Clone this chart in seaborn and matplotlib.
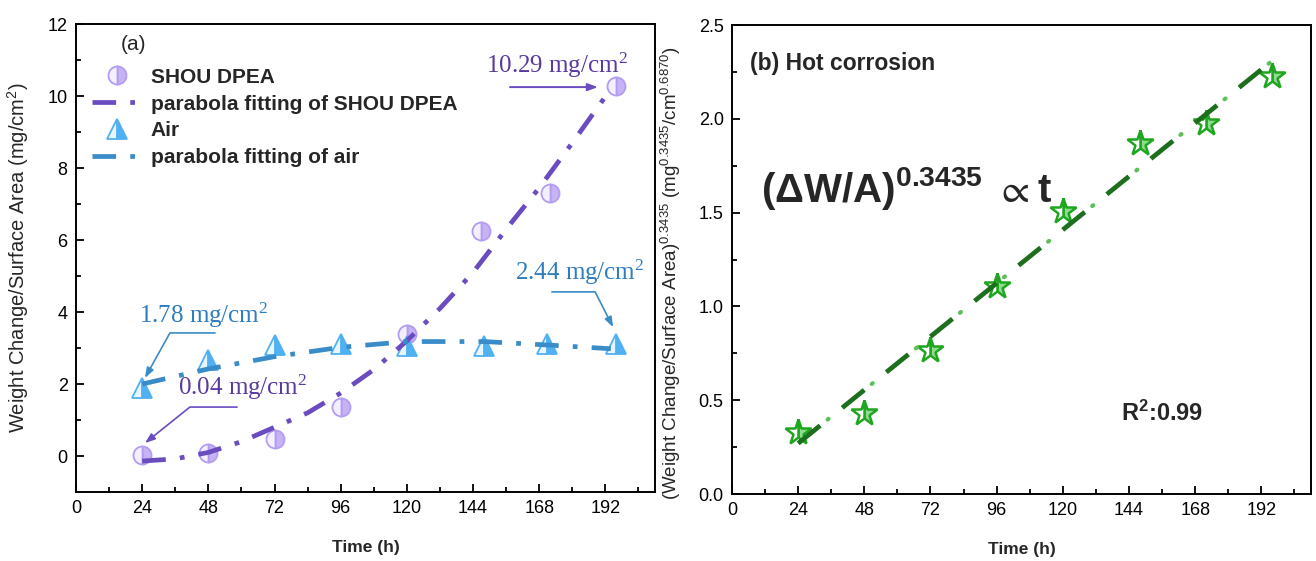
import matplotlib
matplotlib.use("Agg")
import matplotlib.pyplot as plt
from matplotlib.ticker import MultipleLocator, FormatStrFormatter
import seaborn as sns

# ---- values ----
# (a) SHOU DPEA vs air
time_shou = [24, 48, 72, 96, 120, 147, 172, 196]
wc_shou = [0.04, 0.08, 0.46, 1.35, 3.39, 6.25, 7.31, 10.29]
time_air = [24, 48, 72, 96, 120, 148, 171, 196]
wc_air = [1.9, 2.67, 3.09, 3.1, 3.06, 3.06, 3.1, 3.1]

fit_shou_t = [24, 36, 48, 60, 72, 84, 96, 108, 120, 132, 144, 156, 168, 180, 194]
fit_shou_v = [-0.14, -0.08, 0.1, 0.4, 0.8, 1.2, 1.75, 2.4, 3.2, 4.1, 5.1, 6.3, 7.45, 8.7, 10.2]
fit_air_t = [24, 48, 72, 96, 120, 148, 172, 194]
fit_air_v = [2.0, 2.42, 2.76, 3.02, 3.18, 3.18, 3.08, 2.98]

# (b) hot corrosion, linearised
time_hot = [24, 48, 72, 96, 120, 148, 172, 196]
wc_hot = [0.33, 0.43, 0.77, 1.11, 1.51, 1.87, 1.98, 2.23]
fit_hot_t = [24, 196]
fit_hot_v = [0.27, 2.31]

time_ticks = [0, 24, 48, 72, 96, 120, 144, 168, 192]

sns.set_style("ticks")
plt.rcParams["font.family"] = ["Liberation Sans", "DejaVu Sans"]
plt.rcParams["mathtext.default"] = "regular"
sans = ["Liberation Sans", "DejaVu Sans"]

PURPLE = "#6a4cc0"
PURPLE_TXT = "#5a3a9e"
BLUE = "#3a8cc8"
BLUE_TXT = "#2f7cbf"
LAV = "#c6b3f4"
SKY = "#4fb0f2"

fig = plt.figure(figsize=(13.16, 5.61), dpi=100)
ax1 = fig.add_axes([0.0578, 0.123, 0.4399, 0.834])
ax2 = fig.add_axes([0.5562, 0.1194, 0.44, 0.836])

for ax in (ax1, ax2):
    ax.set_xlim(0, 210)
    ax.set_xticks(time_ticks)
    ax.xaxis.set_minor_locator(MultipleLocator(12))
    ax.tick_params(which="both", direction="in", top=False, right=False,
                   width=1.3, labelsize=13, colors="black")
    ax.tick_params(which="major", length=6, pad=6)
    ax.tick_params(which="minor", length=3.5)
    for s in ax.spines.values():
        s.set_linewidth(1.4)
        s.set_color("black")
    ax.set_xlabel("Time (h)", fontsize=12.5, fontweight="bold")
    ax.xaxis.set_label_coords(0.5, -0.103)

# --------- (a) ----------
sns.lineplot(x=time_shou, y=wc_shou, ax=ax1, marker="o", linestyle="",
             markersize=13, fillstyle="right", markerfacecolor=LAV,
             markerfacecoloralt="#f3efff", markeredgecolor="#b39cf2",
             markeredgewidth=1.3, label="SHOU DPEA", zorder=2)
sns.lineplot(x=fit_shou_t, y=fit_shou_v, ax=ax1, color=PURPLE, lw=3.4,
             linestyle=(0, (5, 3, 1, 3)), label="parabola fitting of SHOU DPEA", zorder=3)
sns.lineplot(x=time_air, y=wc_air, ax=ax1, marker="^", linestyle="",
             markersize=15, fillstyle="right", markerfacecolor=SKY,
             markerfacecoloralt="#eaf6ff", markeredgecolor=SKY,
             markeredgewidth=1.3, label="Air", zorder=2)
sns.lineplot(x=fit_air_t, y=fit_air_v, ax=ax1, color=BLUE, lw=3.4,
             linestyle=(0, (5, 3, 1, 3)), label="parabola fitting of air", zorder=3)

ax1.set_ylim(-1, 12)
ax1.yaxis.set_major_locator(MultipleLocator(2))
ax1.yaxis.set_minor_locator(MultipleLocator(1))
ax1.set_ylabel("Weight Change/Surface Area (mg/cm$^{2}$)", fontsize=14.5)
ax1.yaxis.set_label_coords(-0.077, 0.5)

ax1.legend(loc="upper left", bbox_to_anchor=(0.028, 0.907), frameon=False,
           prop=dict(weight="bold", size=15), handlelength=2.4,
           handletextpad=0.4, labelspacing=0.38, borderpad=0, borderaxespad=0,
           numpoints=1)
ax1.text(0.1, 0.957, "(a)", transform=ax1.transAxes, ha="center", va="center",
         fontsize=15)

ann = dict(fontsize=18, family=["Liberation Serif", "DejaVu Serif"], ha="center", va="center")
arr = "-|>,head_length=0.6,head_width=0.22"
ax1.text(174.5, 10.86, "10.29 mg/cm$^{2}$", color=PURPLE_TXT, **ann)
ax1.annotate("", xy=(189.3, 10.25), xytext=(157.4, 10.25),
             arrowprops=dict(arrowstyle=arr, color=PURPLE, lw=1.4,
                             shrinkA=0, shrinkB=0))
ax1.text(60.6, 1.92, "0.04 mg/cm$^{2}$", color=PURPLE_TXT, **ann)
ax1.annotate("", xy=(25.0, 0.36), xytext=(58.4, 1.36),
             arrowprops=dict(arrowstyle=arr, color=PURPLE, lw=1.2, shrinkA=0, shrinkB=0,
                             connectionstyle="angle,angleA=0,angleB=38.7,rad=0"))
ax1.text(46.4, 3.92, "1.78 mg/cm$^{2}$", color=BLUE_TXT, **ann)
ax1.annotate("", xy=(25.0, 2.17), xytext=(50.4, 3.42),
             arrowprops=dict(arrowstyle=arr, color=BLUE, lw=1.2, shrinkA=0, shrinkB=0,
                             connectionstyle="angle,angleA=0,angleB=61,rad=0"))
ax1.text(182.8, 5.11, "2.44 mg/cm$^{2}$", color=BLUE_TXT, **ann)
ax1.annotate("", xy=(194.8, 3.58), xytext=(172.6, 4.56),
             arrowprops=dict(arrowstyle=arr, color=BLUE, lw=1.2, shrinkA=0, shrinkB=0,
                             connectionstyle="angle,angleA=0,angleB=117,rad=0"))

# --------- (b) ----------
# dark green dashes with light green dots between them
sns.lineplot(x=fit_hot_t, y=fit_hot_v, ax=ax2, color="#1d6e1d", lw=3.4,
             linestyle=(0, (6, 6)), zorder=3)
sns.lineplot(x=fit_hot_t, y=fit_hot_v, ax=ax2, color="#5cbf5c", lw=3,
             linestyle=(4.5, (0.3, 13.3)), dash_capstyle="round", zorder=3)
sns.lineplot(x=time_hot, y=wc_hot, ax=ax2, marker="*", linestyle="",
             markersize=19, fillstyle="right", markerfacecolor="#8fdc8f",
             markerfacecoloralt="white", markeredgecolor="#1fa51f",
             markeredgewidth=1.8, zorder=2)

ax2.set_ylim(0, 2.5)
ax2.yaxis.set_major_locator(MultipleLocator(0.5))
ax2.yaxis.set_minor_locator(MultipleLocator(0.25))
ax2.yaxis.set_major_formatter(FormatStrFormatter("%.1f"))
ax2.set_ylabel("(Weight Change/Surface Area)$^{0.3435}$ (mg$^{0.3435}$/cm$^{0.6870}$)",
               fontsize=13.5)
ax2.yaxis.set_label_coords(-0.084, 0.47)

ax2.text(0.031, 0.917, "(b) Hot corrosion", transform=ax2.transAxes, ha="left",
         va="center", fontsize=16.5, fontweight="bold")
ax2.text(0.05, 0.652, r"(ΔW/A)$^{0.3435}$ $\propto$t", transform=ax2.transAxes,
         ha="left", va="center", fontsize=29, fontweight="bold", family=sans)
ax2.text(0.672, 0.173, "R$^{2}$:0.99", transform=ax2.transAxes, ha="left",
         va="center", fontsize=17, fontweight="bold")

fig.savefig("out.png", dpi=100)
